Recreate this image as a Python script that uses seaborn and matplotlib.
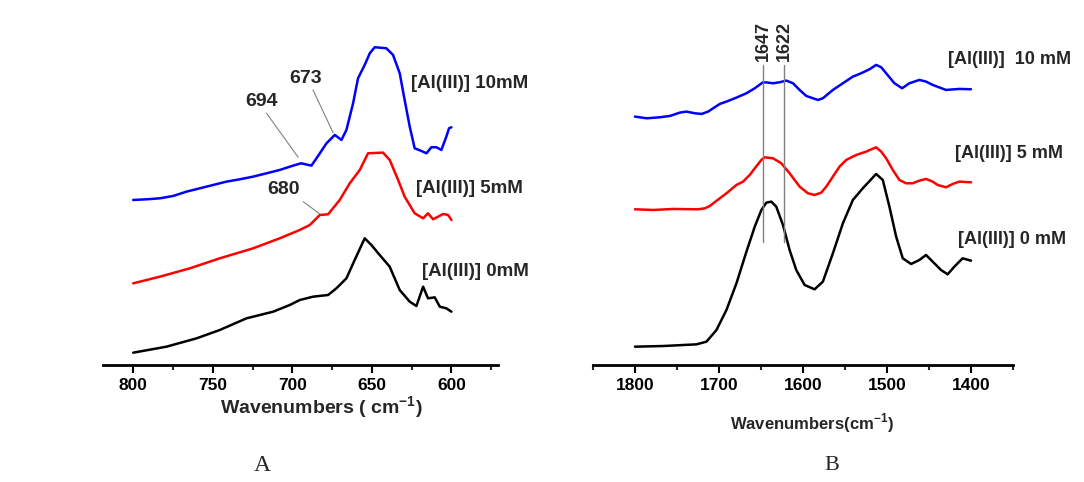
import matplotlib
matplotlib.use("Agg")
import matplotlib.pyplot as plt
from matplotlib.ticker import MultipleLocator
import pandas as pd
import seaborn as sns

# ---- panel A: 800-600 cm-1 region (offset spectra, arbitrary units) ----
a_wn_10 = [800, 791.6, 783.2, 774.9, 766.5, 758.1, 749.7, 741.4, 733.0, 724.6, 716.2, 707.9,
           699.5, 694.5, 688.0, 684.8, 678.5, 673.3, 669.1, 666.0, 661.8, 658.7, 654.5,
           651.3, 648.2, 640.9, 636.7, 632.5, 629.4, 626.2, 623.1, 618.9, 615.7, 612.6,
           609.4, 606.3, 603.2, 601.5, 600]
a_int_10 = [4.90, 4.92, 4.95, 5.02, 5.15, 5.25, 5.35, 5.45, 5.52, 5.60, 5.70, 5.80,
            5.93, 6.00, 5.93, 6.15, 6.60, 6.85, 6.70, 7.00, 7.80, 8.55, 8.95,
            9.30, 9.48, 9.45, 9.25, 8.70, 7.90, 7.10, 6.45, 6.37, 6.30, 6.48,
            6.48, 6.40, 6.80, 7.05, 7.08]

a_wn_5 = [800, 783.2, 764.4, 745.6, 724.6, 707.9, 695.3, 689.0, 682.7, 677.5, 670.2, 663.9,
          657.6, 652.4, 643.0, 638.8, 633.5, 629.4, 623.1, 617.8, 614.7, 611.5, 605.2,
          602.1, 600]
a_int_5 = [2.40, 2.60, 2.85, 3.15, 3.45, 3.75, 4.00, 4.15, 4.45, 4.47, 4.90, 5.40,
           5.80, 6.30, 6.32, 6.10, 5.50, 5.00, 4.50, 4.35, 4.50, 4.32, 4.48,
           4.45, 4.30]

a_wn_0 = [800, 779.1, 760.2, 745.6, 728.8, 712.0, 701.6, 695.3, 686.9, 677.5, 672.3, 666.0,
          660.8, 654.5, 650.3, 645.1, 638.8, 632.5, 626.2, 622.0, 617.8, 614.7, 610.5,
          607.3, 603.2, 600]
a_int_0 = [0.32, 0.50, 0.75, 1.00, 1.35, 1.55, 1.75, 1.90, 2.00, 2.05, 2.25, 2.55,
           3.10, 3.75, 3.55, 3.25, 2.90, 2.20, 1.85, 1.72, 2.30, 1.95, 1.98,
           1.70, 1.65, 1.55]

a_labels = ["[Al(III)] 10mM", "[Al(III)] 5mM", "[Al(III)] 0mM"]
a_label_pos = [(625.1, 8.40), (622.4, 5.25), (618.2, 2.75)]
a_peaks = ["694", "673", "680"]
a_peak_text = [(719.4, 7.85), (691.5, 8.55), (705.8, 5.20)]
a_peak_line = [((716.2, 7.50), (696.3, 6.18)), ((687.0, 8.20), (674.4, 6.92)),
               ((693.2, 4.85), (682.7, 4.48))]

# ---- panel B: amide I / II region ----
b_wn_10 = [1800.0, 1786.1, 1770.3, 1758.4, 1746.5, 1738.6, 1728.7, 1720.8, 1712.9, 1706.9,
           1699.0, 1691.1, 1679.2, 1667.3, 1657.4, 1647.5, 1641.6, 1635.7, 1627.7, 1619.8,
           1611.9, 1604.0, 1596.1, 1588.1, 1582.2, 1576.3, 1564.4, 1552.5, 1540.6, 1530.7,
           1520.8, 1512.9, 1506.9, 1501.0, 1491.1, 1482.0, 1473.3, 1461.4, 1453.5, 1445.6,
           1429.7, 1413.9, 1400.0]
b_int_10 = [7.40, 7.35, 7.38, 7.42, 7.52, 7.55, 7.50, 7.48, 7.55, 7.65,
            7.78, 7.85, 7.97, 8.10, 8.25, 8.43, 8.42, 8.40, 8.43, 8.48,
            8.40, 8.20, 8.02, 7.95, 7.90, 7.95, 8.20, 8.40, 8.60, 8.70,
            8.82, 8.95, 8.88, 8.70, 8.40, 8.25, 8.40, 8.50, 8.45, 8.35,
            8.20, 8.23, 8.22]

b_wn_5 = [1800.0, 1778.2, 1754.5, 1724.8, 1716.8, 1710.9, 1699.0, 1691.1, 1679.2, 1671.3,
          1663.4, 1657.4, 1649.5, 1645.6, 1635.7, 1625.8, 1615.9, 1604.0, 1594.1, 1586.2,
          1578.2, 1572.3, 1564.4, 1556.5, 1548.5, 1536.7, 1524.8, 1512.9, 1506.9, 1501.0,
          1493.1, 1485.2, 1477.3, 1469.4, 1461.4, 1453.5, 1445.6, 1439.7, 1429.7, 1421.8,
          1413.9, 1400.0]
b_int_5 = [4.62, 4.60, 4.63, 4.62, 4.65, 4.72, 4.95, 5.10, 5.35, 5.45,
           5.65, 5.85, 6.10, 6.18, 6.15, 6.00, 5.70, 5.30, 5.10, 5.05,
           5.12, 5.30, 5.60, 5.90, 6.10, 6.25, 6.35, 6.48, 6.35, 6.15,
           5.80, 5.50, 5.40, 5.40, 5.48, 5.53, 5.45, 5.35, 5.28, 5.38,
           5.45, 5.43]

b_wn_0 = [1800.0, 1766.3, 1726.7, 1714.9, 1703.0, 1691.1, 1679.2, 1667.3, 1657.4, 1649.5,
          1643.6, 1637.7, 1631.8, 1623.8, 1615.9, 1608.0, 1598.0, 1586.2, 1576.3, 1564.4,
          1552.5, 1540.6, 1528.8, 1512.9, 1505.0, 1497.1, 1489.1, 1481.2, 1471.3, 1461.4,
          1453.5, 1445.6, 1435.7, 1427.8, 1419.8, 1410.0, 1400.0]
b_int_0 = [0.50, 0.52, 0.57, 0.65, 1.00, 1.60, 2.40, 3.35, 4.10, 4.60,
           4.82, 4.85, 4.70, 4.15, 3.40, 2.80, 2.35, 2.22, 2.45, 3.30,
           4.20, 4.90, 5.25, 5.68, 5.50, 4.70, 3.80, 3.15, 2.98, 3.10,
           3.25, 3.05, 2.80, 2.67, 2.90, 3.15, 3.08]

b_labels = ["[Al(III)]  10 mM", "[Al(III)] 5 mM", "[Al(III)] 0 mM"]
b_label_pos = [(1427.8, 9.10), (1418.7, 6.30), (1415.1, 3.72)]
b_marks = [1647, 1622]
b_mark_span = (3.65, 8.95)

series_order = ["10", "5", "0"]
palette = {"10": "#0000ff", "5": "#ff0000", "0": "#000000"}

sns.set_theme(style="white")
plt.rcParams["font.family"] = ["Liberation Sans", "DejaVu Sans"]
plt.rcParams["font.weight"] = "bold"
plt.rcParams["mathtext.fontset"] = "custom"
plt.rcParams["mathtext.rm"] = "Liberation Sans:bold"
plt.rcParams["mathtext.bf"] = "Liberation Sans:bold"
plt.rcParams["lines.solid_joinstyle"] = "round"


def long_frame(wns, ints):
    parts = []
    for key, w, v in zip(series_order, wns, ints):
        parts.append(pd.DataFrame({"wavenumber": w, "intensity": v, "series": key}))
    return pd.concat(parts, ignore_index=True)


df_a = long_frame([a_wn_10, a_wn_5, a_wn_0], [a_int_10, a_int_5, a_int_0])
df_b = long_frame([b_wn_10, b_wn_5, b_wn_0], [b_int_10, b_int_5, b_int_0])

fig = plt.figure(figsize=(10.84, 4.82), dpi=100)
ax_a = fig.add_axes([0.095, 0.2427, 0.364, 0.716])
ax_b = fig.add_axes([0.547, 0.2427, 0.3875, 0.716])


def style_axis(ax, xlim, major, minor):
    ax.set_xlim(*xlim)
    ax.set_ylim(-0.05, 10.3)
    for side in ["left", "right", "top"]:
        ax.spines[side].set_visible(False)
    ax.spines["bottom"].set_linewidth(2.0)
    ax.spines["bottom"].set_color("black")
    ax.set_yticks([])
    ax.set_ylabel("")
    ax.xaxis.set_major_locator(MultipleLocator(major))
    ax.xaxis.set_minor_locator(MultipleLocator(minor))
    ax.tick_params(axis="x", which="major", direction="out", length=6, width=1.5,
                   bottom=True, labelsize=12.5, pad=3, colors="black")
    ax.tick_params(axis="x", which="minor", direction="out", length=3.5, width=1.5,
                   bottom=True)
    for lbl in ax.get_xticklabels():
        lbl.set_fontweight("bold")
    ax.set_facecolor("none")


for ax, df in [(ax_a, df_a), (ax_b, df_b)]:
    sns.lineplot(data=df, x="wavenumber", y="intensity", hue="series",
                 hue_order=series_order, palette=palette, sort=False,
                 estimator=None, legend=False, linewidth=1.8, ax=ax)

style_axis(ax_a, (819, 571), 50, 25)
style_axis(ax_b, (1850, 1350), 100, 50)

ax_a.set_xlabel(r"Wavenumbers ( cm$^{\mathbf{-1}}$)", fontsize=14, fontweight="bold")
ax_a.xaxis.set_label_coords(0.554, -0.085)
ax_b.set_xlabel(r"Wavenumbers(cm$^{\mathbf{-1}}$)", fontsize=12, fontweight="bold")
ax_b.xaxis.set_label_coords(0.521, -0.135)

for txt, (x, y) in zip(a_labels, a_label_pos):
    ax_a.text(x, y, txt, fontsize=13.5, fontweight="bold", ha="left", va="center",
              clip_on=False)
for txt, (x, y) in zip(a_peaks, a_peak_text):
    ax_a.text(x, y, txt, fontsize=14, fontweight="bold", ha="center", va="center")
for (x0, y0), (x1, y1) in a_peak_line:
    ax_a.plot([x0, x1], [y0, y1], color="#808080", linewidth=0.8)

for txt, (x, y) in zip(b_labels, b_label_pos):
    ax_b.text(x, y, txt, fontsize=13, fontweight="bold", ha="left", va="center",
              clip_on=False)
for wn in b_marks:
    ax_b.plot([wn, wn], list(b_mark_span), color="#808080", linewidth=1.0)
    ax_b.text(wn, b_mark_span[1] + 0.12, str(wn), rotation=90, fontsize=13,
              fontweight="bold", ha="center", va="bottom")

fig.text(0.2417, 0.035, "A", fontsize=17, family="Liberation Serif", ha="center",
         va="center", fontweight="normal")
fig.text(0.7675, 0.035, "B", fontsize=16, family="Liberation Serif", ha="center",
         va="center", fontweight="normal")

fig.savefig("out.png", dpi=100)
